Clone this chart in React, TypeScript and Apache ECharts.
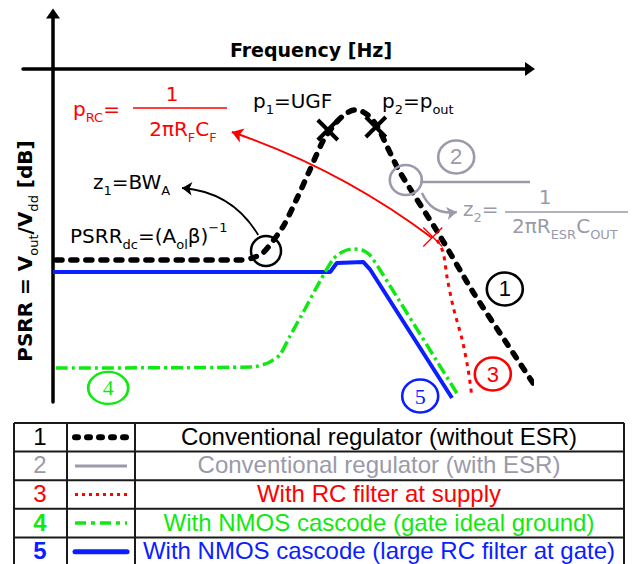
import React, { useEffect, useRef } from 'react';
import * as echarts from 'echarts';

// x = log-frequency in decades from the PSRR axis, y = PSRR in dB (0 dB on the frequency axis)
const conv1X = [0.05, 3.12, 3.32, 3.5, 3.83, 4.07, 4.28, 4.5, 4.7, 4.87, 5.02, 5.17, 5.3, 5.42, 5.58, 5.78, 6.45, 7.0, 7.57, 8.0];
const conv1Y = [-63.67, -63.67, -63, -61.33, -52.67, -43, -33.67, -24, -18.33, -15, -13.67, -14.33, -16.33, -19.67, -26.33, -34.33, -55.67, -74.33, -91.67, -104.67];
const esr2X = [6.12, 7.95];
const esr2Y = [-37.67, -37.67];
const rc3X = [6.4, 6.5, 6.57, 6.67, 6.82, 6.92, 6.98];
const rc3Y = [-57, -61, -69.67, -79.33, -90.33, -100.33, -109];
const nmos4X = [0.05, 3.33, 3.58, 3.78, 3.95, 4.2, 4.45, 4.67, 4.82, 4.98, 5.15, 5.28, 5.42, 6.75];
const nmos4Y = [-99.67, -99.33, -98, -95.33, -89, -80, -70.67, -63.33, -61, -60, -60.33, -62, -66, -108.67];
const nmos5X = [0.0, 4.62, 4.73, 5.17, 5.28, 6.65];
const nmos5Y = [-67.67, -67.67, -64.67, -64.33, -66.67, -109.67];

// markers
const zeroX = [3.55, 5.88];
const zeroY = [-60.67, -37];
const poleX = [4.58, 5.38];
const poleY = [-20.33, -19.33];
const rcPoleX = [6.33];
const rcPoleY = [-56];
const tagNames = ['1', '2', '3', '4', '5'];
const tagX = [7.53, 6.72, 7.33, 0.92, 6.12];
const tagY = [-73.33, -29.33, -101.67, -106.33, -109];

// annotation arrows [from, to]
const arrowRC = [[2.98, -21], [6.32, -56.33]];
const arrowZ1 = [[2.15, -39.67], [3.42, -55.33]];
const arrowZ2 = [[6.15, -41.33], [6.73, -47.67]];

// legend table
const legendNumbers = ['1', '2', '3', '4', '5'];
const legendLabels = [
  'Conventional regulator (without ESR)',
  'Conventional regulator (with ESR)',
  'With RC filter at supply',
  'With NMOS cascode (gate ideal ground)',
  'With NMOS cascode (large RC filter at gate)',
];

const BLACK = '#000000';
const GRAY = '#9a9aaa';
const RED = '#ff0000';
const GREEN = '#11e811';
const BLUE = '#0a1eff';
const COLORS = [BLACK, GRAY, RED, GREEN, BLUE];

const F = '"DejaVu Sans", sans-serif';
const TF = '"Liberation Sans", Arial, sans-serif';
const ELLIPSE = 'path://M0,10A10,10,0,1,1,20,10A10,10,0,1,1,0,10Z';
const CROSS = 'path://M0,0L10,10M10,0L0,10';

const zip = (xs: number[], ys: number[]) => xs.map((x, i) => [x, ys[i]]);

function rich(color: string, size = 20) {
  return {
    n: { fontFamily: F, fontSize: size, lineHeight: 30, fill: color },
    b: { fontFamily: F, fontSize: size, fontWeight: 'bold', lineHeight: 30, fill: color },
    s: { fontFamily: F, fontSize: 13, lineHeight: 15, verticalAlign: 'bottom', fill: color },
    p: { fontFamily: F, fontSize: 13, lineHeight: 22, verticalAlign: 'top', fill: color },
  };
}

function txt(x: number, y: number, text: string, color: string, align = 'left', extra: any = {}) {
  return {
    type: 'text',
    x,
    y,
    silent: true,
    ...extra,
    style: {
      text,
      rich: rich(color, extra.size || 20),
      fill: color,
      fontFamily: F,
      fontSize: 20,
      align,
      verticalAlign: 'middle',
    },
  };
}

function buildGraphic() {
  const g: any[] = [];
  g.push({
    type: 'text', x: 311, y: 50, silent: true,
    style: { text: 'Frequency [Hz]', fontFamily: F, fontSize: 19, fontWeight: 'bold', fill: BLACK, align: 'center', verticalAlign: 'middle' },
  });
  g.push(txt(25, 251, '{b|PSRR = V}{s|out}{b|/V}{s|dd}{b|\u00a0[dB]}', BLACK, 'center', { rotation: Math.PI / 2 }));
  g.push(txt(253, 101, '{n|p}{s|1}{n|=UGF}', BLACK));
  g.push(txt(382, 101, '{n|p}{s|2}{n|=p}{s|out}', BLACK));
  g.push(txt(73, 109, '{n|p}{s|RC}{n|=}', RED));
  g.push(txt(172, 94, '{n|1}', RED, 'center'));
  g.push({ type: 'line', silent: true, shape: { x1: 133, y1: 108, x2: 227, y2: 108 }, style: { stroke: RED, lineWidth: 1.5 } });
  g.push(txt(183, 129, '{n|2\u03c0R}{s|F}{n|C}{s|F}', RED, 'center'));
  g.push(txt(93, 182, '{n|z}{s|1}{n|=BW}{s|A}', BLACK));
  g.push(txt(70, 236, '{n|PSRR}{s|dc}{n|=(A}{s|ol}{n|\u03b2)}{p|\u22121}', BLACK));
  g.push(txt(463, 209, '{n|z}{s|2}{n|=}', GRAY));
  g.push(txt(545, 197, '{n|1}', GRAY, 'center'));
  g.push({ type: 'line', silent: true, shape: { x1: 505, y1: 212, x2: 628, y2: 212 }, style: { stroke: GRAY, lineWidth: 1.5 } });
  g.push(txt(512, 226, '{n|2\u03c0R}{s|ESR}{n|C}{s|OUT}', GRAY));

  // legend table
  const top = 423;
  const rowH = 28.6;
  const cols = [14, 67, 135, 624];
  for (let i = 0; i <= legendLabels.length; i++) {
    g.push({ type: 'line', silent: true, shape: { x1: cols[0], y1: top + i * rowH, x2: cols[3], y2: top + i * rowH }, style: { stroke: '#1a1a1a', lineWidth: 2 } });
  }
  cols.forEach((cx) => {
    g.push({ type: 'line', silent: true, shape: { x1: cx, y1: top, x2: cx, y2: top + legendLabels.length * rowH }, style: { stroke: '#1a1a1a', lineWidth: 2 } });
  });
  const samples: any[] = [
    { stroke: BLACK, lineWidth: 6, lineDash: [3, 9], lineCap: 'round' },
    { stroke: GRAY, lineWidth: 3 },
    { stroke: RED, lineWidth: 3, lineDash: [3, 4] },
    { stroke: GREEN, lineWidth: 3.5, lineDash: [11, 5, 4, 5] },
    { stroke: BLUE, lineWidth: 5, lineCap: 'round' },
  ];
  legendLabels.forEach((label, i) => {
    const cy = top + i * rowH + rowH / 2 - 1;
    g.push({
      type: 'text', x: 40, y: cy, silent: true,
      style: { text: legendNumbers[i], fontFamily: TF, fontSize: 24, fontWeight: i >= 3 ? 'bold' : 'normal', fill: COLORS[i], align: 'center', verticalAlign: 'middle' },
    });
    g.push({ type: 'line', silent: true, shape: { x1: 75, y1: cy + 1, x2: 127, y2: cy + 1 }, style: samples[i] });
    g.push({
      type: 'text', x: 379, y: cy, silent: true,
      style: { text: label, fontFamily: TF, fontSize: 24, fill: COLORS[i], align: 'center', verticalAlign: 'middle' },
    });
  });
  return g;
}

export default function App() {
  const ref = useRef<HTMLDivElement>(null);
  useEffect(() => {
    if (!ref.current) return;
    const chart = echarts.init(ref.current, null, { renderer: 'svg' });
    const option: any = {
      animation: false,
      backgroundColor: '#ffffff',
      grid: { left: 23, right: 107, top: 13.5, bottom: 162, containLabel: false },
      xAxis: {
        type: 'value', min: -0.5, max: 7.95,
        axisLine: { onZero: true, lineStyle: { color: BLACK, width: 3.5 }, symbol: ['none', 'triangle'], symbolSize: [14, 10] },
        axisTick: { show: false }, axisLabel: { show: false }, splitLine: { show: false },
      },
      yAxis: {
        type: 'value', min: -111, max: 18.5,
        axisLine: { onZero: true, lineStyle: { color: BLACK, width: 3.5 }, symbol: ['none', 'triangle'], symbolSize: [14, 10] },
        axisTick: { show: false }, axisLabel: { show: false }, splitLine: { show: false },
      },
      series: [
        {
          type: 'lines', coordinateSystem: 'cartesian2d', silent: true, z: 2,
          data: [{ coords: arrowRC }],
          lineStyle: { color: RED, width: 2, curveness: 0.08, opacity: 1 },
          symbol: ['arrow', 'none'], symbolSize: 11,
        },
        {
          type: 'lines', coordinateSystem: 'cartesian2d', silent: true, z: 2,
          data: [{ coords: arrowZ1 }],
          lineStyle: { color: BLACK, width: 1.8, curveness: 0.26, opacity: 1 },
          symbol: ['arrow', 'none'], symbolSize: 10,
        },
        {
          type: 'lines', coordinateSystem: 'cartesian2d', silent: true, z: 2,
          data: [{ coords: arrowZ2 }],
          lineStyle: { color: GRAY, width: 2.5, curveness: -0.38, opacity: 1 },
          symbol: ['none', 'arrow'], symbolSize: 10,
        },
        {
          type: 'line', data: zip(nmos5X, nmos5Y), symbol: 'none', clip: false, silent: true, z: 3,
          lineStyle: { color: BLUE, width: 4 },
        },
        {
          type: 'line', data: zip(nmos4X, nmos4Y), symbol: 'none', clip: false, silent: true, z: 4, smooth: 0.2,
          lineStyle: { color: GREEN, width: 3.5, type: [12, 4, 3, 4] },
        },
        {
          type: 'line', data: zip(rc3X, rc3Y), symbol: 'none', clip: false, silent: true, z: 4, smooth: 0.3,
          lineStyle: { color: RED, width: 3, type: [4, 5] },
        },
        {
          type: 'line', data: zip(conv1X, conv1Y), symbol: 'none', clip: false, silent: true, z: 5, smooth: 0.25,
          lineStyle: { color: BLACK, width: 5.5, type: [6, 9], cap: 'round' },
        },
        {
          type: 'line', data: zip(esr2X, esr2Y), symbol: 'none', clip: false, silent: true, z: 6,
          lineStyle: { color: GRAY, width: 2.5 },
        },
        {
          type: 'scatter', silent: true, z: 7, clip: false, symbol: ELLIPSE,
          data: zip(zeroX, zeroY).map((v, i) => ({
            value: v, symbolSize: i === 0 ? [30, 30] : [32, 30],
            itemStyle: { color: 'rgba(0,0,0,0)', borderColor: i === 0 ? BLACK : GRAY, borderWidth: 2.5, opacity: 1 },
          })),
        },
        {
          type: 'scatter', silent: true, z: 8, clip: false, symbol: CROSS, symbolSize: 20,
          data: zip(poleX, poleY),
          itemStyle: { color: 'rgba(0,0,0,0)', borderColor: BLACK, borderWidth: 4, opacity: 1 },
        },
        {
          type: 'scatter', silent: true, z: 8, clip: false, symbol: CROSS, symbolSize: 19,
          data: zip(rcPoleX, rcPoleY),
          itemStyle: { color: 'rgba(0,0,0,0)', borderColor: RED, borderWidth: 1.3, opacity: 1 },
        },
        {
          type: 'scatter', silent: true, z: 8, clip: false, symbol: ELLIPSE,
          data: tagNames.map((name, i) => ({
            name, value: [tagX[i], tagY[i]],
            symbolSize: i === 3 ? [40, 32] : [36, 33],
            itemStyle: { color: 'rgba(0,0,0,0)', borderColor: COLORS[i], borderWidth: 2.5, opacity: 1 },
            label: {
              show: true, position: 'inside', formatter: '{b}', color: COLORS[i], fontSize: 22,
              fontFamily: i >= 3 ? '"Liberation Serif", serif' : TF,
            },
          })),
        },
      ],
      graphic: buildGraphic(),
    };
    chart.setOption(option);
    return () => chart.dispose();
  }, []);
  return <div ref={ref} style={{ position: 'fixed', left: 0, top: 0, width: 637, height: 564, background: '#fff' }} />;
}
